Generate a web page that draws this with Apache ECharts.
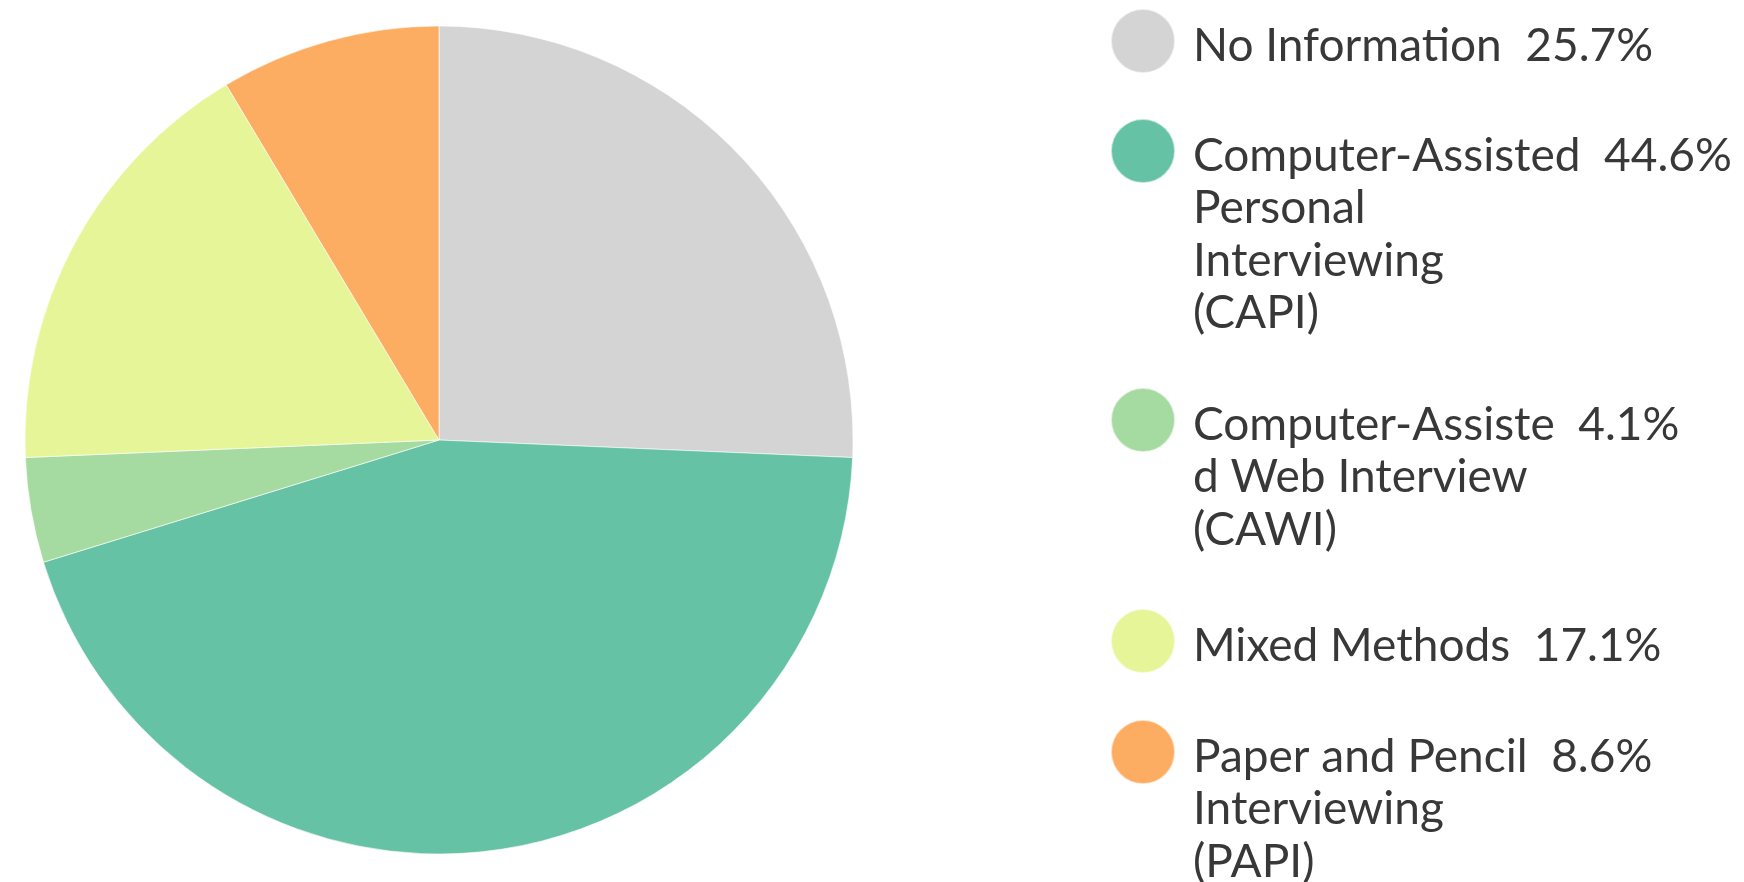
<!DOCTYPE html>
<html>
<head>
<meta charset="utf-8">
<script src="https://cdn.jsdelivr.net/npm/echarts@6/dist/echarts.min.js"></script>
<style>
html,body{margin:0;padding:0;background:#fff;}
#chart{width:1744px;height:882px;}
</style>
</head>
<body>
<div id="chart"></div>
<script>
const categories = [
  'No Information',
  'Computer-Assisted Personal Interviewing (CAPI)',
  'Computer-Assisted Web Interview (CAWI)',
  'Mixed Methods',
  'Paper and Pencil Interviewing (PAPI)'
];
const values = [25.7, 44.6, 4.1, 17.1, 8.6];
const legendLines = [
  ['No Information'],
  ['Computer-Assisted', 'Personal', 'Interviewing', '(CAPI)'],
  ['Computer-Assiste', 'd Web Interview', '(CAWI)'],
  ['Mixed Methods'],
  ['Paper and Pencil', 'Interviewing', '(PAPI)']
];
const colors = ['#d4d4d4', '#66c2a5', '#a5dba0', '#e6f598', '#fdad61'];

const LH = 52.5;
const ICON = 64;
const SHIFT = 10;
const iconCentersY = [40, 151, 420, 640, 752];

const legends = categories.map((name, i) => {
  const lines = legendLines[i].slice();
  const n = lines.length;
  lines[0] = lines[0] + '  ' + values[i].toFixed(1) + '%';
  // blank lines above so that the first real line sits at the icon's centre
  const text = '{s| }\n' + '\n'.repeat(n - 1) + lines.map(l => '{g| }' + l).join('\n');
  const blockH = Math.max(ICON, (2 * n - 1) * LH + SHIFT);
  return {
    orient: 'vertical',
    left: 1110,
    top: iconCentersY[i] - blockH / 2,
    padding: 0,
    itemWidth: ICON,
    itemHeight: ICON,
    itemGap: 0,
    icon: 'circle',
    selectedMode: false,
    data: [{ name: name, itemStyle: { color: colors[i] } }],
    formatter: () => text,
    textStyle: {
      fontFamily: 'Lato',
      fontSize: 46,
      lineHeight: LH,
      color: '#383838',
      rich: {
        s: { fontSize: 1, lineHeight: SHIFT },
        g: { fontSize: 1, width: 13 }
      }
    }
  };
});

const chart = echarts.init(document.getElementById('chart'), null, { renderer: 'canvas' });
chart.setOption({
  animation: false,
  backgroundColor: '#ffffff',
  color: colors,
  legend: legends,
  series: [{
    type: 'pie',
    center: [439, 440],
    radius: 414,
    startAngle: 90,
    clockwise: true,
    label: { show: false },
    labelLine: { show: false },
    emphasis: { disabled: true },
    itemStyle: { borderColor: 'rgba(255,255,255,0.6)', borderWidth: 1 },
    data: categories.map((c, i) => ({ name: c, value: values[i] }))
  }]
});
</script>
</body>
</html>
